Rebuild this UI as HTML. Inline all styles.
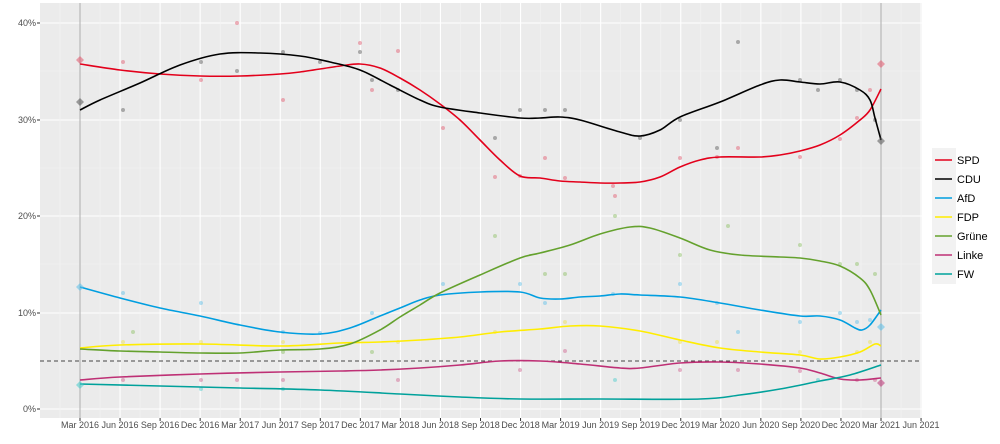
<!DOCTYPE html>
<html><head><meta charset="utf-8"><style>body{margin:0;background:#fff}svg{display:block;font-family:"Liberation Sans",sans-serif}</style></head><body>
<svg width="1000" height="444" viewBox="0 0 1000 444">
<rect x="40" y="3" width="882" height="415" fill="#ebebeb"/>
<g stroke="#f4f4f4" stroke-width="0.6">
<line x1="40" x2="922" y1="361" y2="361"/><line x1="40" x2="922" y1="264" y2="264"/><line x1="40" x2="922" y1="168" y2="168"/><line x1="40" x2="922" y1="71" y2="71"/>
</g>
<g stroke="#fff" stroke-width="1.1">
<line x1="40" x2="922" y1="409" y2="409"/><line x1="40" x2="922" y1="313" y2="313"/><line x1="40" x2="922" y1="216" y2="216"/><line x1="40" x2="922" y1="120" y2="120"/><line x1="40" x2="922" y1="23" y2="23"/>
</g>
<g id="vg" stroke="#fff" stroke-width="1.1"></g>
<line x1="80" x2="80" y1="3" y2="418" stroke="#aaa" stroke-width="1"/>
<line x1="881" x2="881" y1="3" y2="418" stroke="#aaa" stroke-width="1"/>
<line x1="40" x2="922" y1="361" y2="361" stroke="#444" stroke-width="1.1" stroke-dasharray="4,3"/>
<g id="pts" opacity="0.45"></g>
<g id="curves" fill="none" stroke-width="1.6" stroke-linejoin="round">
<polyline stroke="#e3001b" points="80,64 120,70 160,74 200,76 240,76 280,74 300,72 340,66 360,64 380,68 400,78 420,90 440,104 460,120 480,140 500,160 520,176 540,178 560,181 580,182 600,183 620,183 640,182 660,177 680,167 700,160 720,157 760,157 780,155 800,151 820,145 840,135 860,120 870,110 881,89"/>
<polyline stroke="#000" points="80,110 100,100 140,83 180,65 220,54 260,53 300,56 330,62 360,70 390,85 420,100 440,107 480,113 520,118 540,118 560,117 580,120 620,132 640,136 660,130 680,117 720,102 760,85 780,80 800,82 820,84 840,82 860,90 870,100 875,118 881,140"/>
<polyline stroke="#009ee0" points="80,287 120,298 160,308 200,316 240,325 280,332 320,334 350,328 380,316 400,308 420,300 440,295 480,292 520,292 540,298 560,299 580,297 600,296 620,294 640,295 680,297 720,303 760,310 800,316 820,316 840,320 855,328 862,330 870,325 881,310"/>
<polyline stroke="#ffed00" points="80,348 120,345 200,344 280,346 340,343 380,342 420,340 460,337 500,332 540,329 570,326 600,326 640,331 680,340 720,348 760,352 800,355 820,359 840,357 860,352 875,344 881,346"/>
<polyline stroke="#64a12d" points="80,349 120,351 160,352 200,353 240,353 280,350 320,349 350,344 380,330 400,317 420,305 440,293 480,275 520,258 540,253 570,245 600,234 630,227 650,228 680,238 710,250 740,255 780,257 800,258 820,261 840,266 860,278 870,290 881,315"/>
<polyline stroke="#be3075" points="80,380 120,377 200,374 280,372 340,371 380,370 420,368 460,365 500,361 540,361 580,364 620,368 640,368 680,363 720,362 760,364 800,368 820,373 840,379 860,380 881,378"/>
<polyline stroke="#00a19b" points="80,384 160,386 240,388 320,390 400,394 460,397 520,399 600,399 700,399 740,395 780,389 820,381 850,375 881,365"/>
</g>
<g opacity="0.55">
<path d="M80,56 l4,4 -4,4 -4,-4z" fill="#e3556b"/><path d="M80,98 l4,4 -4,4 -4,-4z" fill="#555"/>
<path d="M80,283 l4,4 -4,4 -4,-4z" fill="#5bc0ea"/><path d="M80,381 l4,4 -4,4 -4,-4z" fill="#4cc"/>
<path d="M881,60 l4,4 -4,4 -4,-4z" fill="#e3556b"/><path d="M881,137 l4,4 -4,4 -4,-4z" fill="#555"/>
<path d="M881,323 l4,4 -4,4 -4,-4z" fill="#5bc0ea"/><path d="M881,379 l4,4 -4,4 -4,-4z" fill="#be3075"/>
</g>
<g font-size="9" fill="#4d4d4d" text-anchor="end">
<text x="36" y="412">0%</text><text x="36" y="316">10%</text><text x="36" y="219">20%</text><text x="36" y="123">30%</text><text x="36" y="26">40%</text>
</g>
<g stroke="#333" stroke-width="1"><line x1="37" x2="40" y1="409" y2="409"/><line x1="37" x2="40" y1="313" y2="313"/><line x1="37" x2="40" y1="216" y2="216"/><line x1="37" x2="40" y1="120" y2="120"/><line x1="37" x2="40" y1="23" y2="23"/></g>
<g id="xl" font-size="9" fill="#4d4d4d" text-anchor="middle"></g>
<g id="xt" stroke="#333" stroke-width="1"></g>
<g font-size="11" fill="#000">
<rect x="932" y="148" width="24" height="136" fill="#f2f2f2"/>
<line x1="935" x2="952" y1="160" y2="160" stroke="#e3001b" stroke-width="1.6"/><text x="957" y="164">SPD</text>
<line x1="935" x2="952" y1="179" y2="179" stroke="#000" stroke-width="1.6"/><text x="957" y="183">CDU</text>
<line x1="935" x2="952" y1="198" y2="198" stroke="#009ee0" stroke-width="1.6"/><text x="957" y="202">AfD</text>
<line x1="935" x2="952" y1="217" y2="217" stroke="#ffed00" stroke-width="1.6"/><text x="957" y="221">FDP</text>
<line x1="935" x2="952" y1="236" y2="236" stroke="#64a12d" stroke-width="1.6"/><text x="957" y="240">Grüne</text>
<line x1="935" x2="952" y1="255" y2="255" stroke="#be3075" stroke-width="1.6"/><text x="957" y="259">Linke</text>
<line x1="935" x2="952" y1="274" y2="274" stroke="#00a19b" stroke-width="1.6"/><text x="957" y="278">FW</text>
</g>
</svg>
<script>
var L=["Mar 2016","Jun 2016","Sep 2016","Dec 2016","Mar 2017","Jun 2017","Sep 2017","Dec 2017","Mar 2018","Jun 2018","Sep 2018","Dec 2018","Mar 2019","Jun 2019","Sep 2019","Dec 2019","Mar 2020","Jun 2020","Sep 2020","Dec 2020","Mar 2021","Jun 2021"];
var ns="http://www.w3.org/2000/svg",xl=document.getElementById("xl"),xt=document.getElementById("xt"),vg=document.getElementById("vg");
function mk(tag,a,p){var e=document.createElementNS(ns,tag);for(var k in a)e.setAttribute(k,a[k]);p.appendChild(e);return e;}
for(var i=0;i<L.length;i++){var x=80+40.05*i;
mk("text",{x:x,y:428},xl).textContent=L[i];
mk("line",{x1:x,x2:x,y1:418,y2:421},xt);
mk("line",{x1:x,x2:x,y1:3,y2:418},vg);
mk("line",{x1:x-20,x2:x-20,y1:3,y2:418,stroke:"#f4f4f4","stroke-width":"0.6"},vg);}
// smooth curves
var pls=document.querySelectorAll("#curves polyline");
pls.forEach(function(pl){var p=pl.getAttribute("points").trim().split(/\s+/).map(function(s){return s.split(",").map(Number);});
var d="M"+p[0][0]+","+p[0][1];
for(var i=0;i<p.length-1;i++){var p0=p[i-1]||p[i],p1=p[i],p2=p[i+1],p3=p[i+2]||p2;
d+=" C"+(p1[0]+(p2[0]-p0[0])/6)+","+(p1[1]+(p2[1]-p0[1])/6)+" "+(p2[0]-(p3[0]-p1[0])/6)+","+(p2[1]-(p3[1]-p1[1])/6)+" "+p2[0]+","+p2[1];}
mk("path",{d:d,stroke:pl.getAttribute("stroke")},pl.parentNode);pl.remove();});
// scatter points
var P=[["#e3556b",[[123,62],[201,80],[237,23],[283,100],[360,43],[372,90],[398,51],[443,128],[495,177],[520,176],[545,158],[565,178],[613,186],[615,196],[680,158],[717,157],[738,148],[800,157],[840,139],[857,118],[870,90]]],
["#555",[[123,110],[201,62],[237,71],[283,52],[320,62],[360,52],[372,80],[398,90],[495,138],[520,110],[545,110],[565,110],[640,138],[680,120],[717,148],[738,42],[800,80],[818,90],[840,80],[857,90],[875,120]]],
["#5bc0ea",[[123,293],[201,303],[283,332],[320,333],[372,313],[443,284],[520,284],[545,303],[613,294],[680,284],[717,303],[738,332],[800,322],[840,313],[857,322],[870,320]]],
["#eee04a",[[123,342],[201,342],[283,342],[398,342],[495,332],[565,322],[680,342],[717,342],[800,352],[857,352],[870,342]]],
["#8ac060",[[133,332],[283,352],[372,352],[495,236],[545,274],[565,274],[615,216],[680,255],[728,226],[800,245],[840,264],[857,264],[875,274]]],
["#d0608e",[[123,380],[201,380],[237,380],[283,380],[398,380],[520,370],[565,351],[680,370],[738,370],[800,371],[857,380],[875,380]]],
["#4cc",[[201,389],[283,389],[615,380],[818,380]]]];
var pg=document.getElementById("pts");
P.forEach(function(s){s[1].forEach(function(q){mk("circle",{cx:q[0],cy:q[1],r:2,fill:s[0]},pg);});});
</script>
</body></html>
